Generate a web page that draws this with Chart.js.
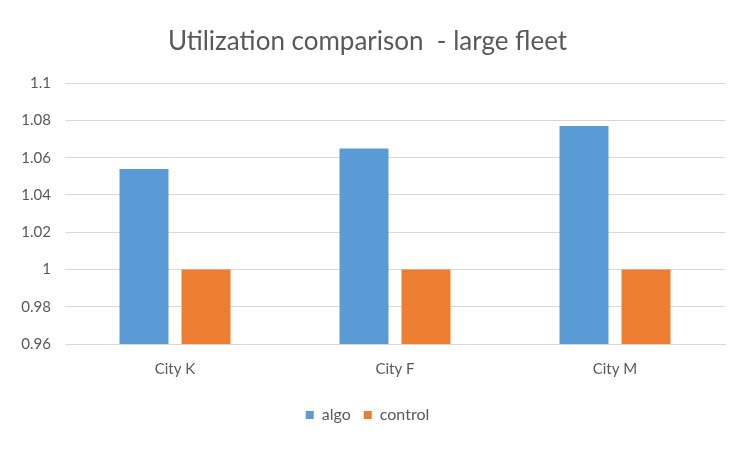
<!DOCTYPE html>
<html>
<head>
<meta charset="utf-8">
<script src="https://cdn.jsdelivr.net/npm/chart.js@4.4.1/dist/chart.umd.min.js"></script>
<style>
html,body{margin:0;padding:0;background:#fff;}
#wrap{width:750px;height:450px;}
</style>
</head>
<body>
<div id="wrap"><canvas id="c" width="750" height="450"></canvas></div>
<script>
const categories = ["City K", "City F", "City M"];
const algoValues = [1.054, 1.065, 1.077];
const controlValues = [1, 1, 1];
const titleText = "Utilization comparison  - large fleet";
const yMin = 0.96, yMax = 1.1, yStep = 0.02;

const FONT = "Lato, 'Open Sans', sans-serif";

new Chart(document.getElementById('c'), {
  type: 'bar',
  data: {
    labels: categories,
    datasets: [
      { label: 'algo', data: algoValues, backgroundColor: '#5B9BD5', categoryPercentage: 0.5636, barPercentage: 0.79 },
      { label: 'control', data: controlValues, backgroundColor: '#ED7D31', categoryPercentage: 0.5636, barPercentage: 0.79 }
    ]
  },
  options: {
    responsive: false,
    animation: false,
    layout: { padding: { left: 10, right: 25, top: 13, bottom: 17 } },
    plugins: {
      title: {
        display: true, text: titleText, color: '#595959',
        font: { family: FONT, size: 26, weight: 'normal' },
        padding: { top: 13, bottom: 26 }
      },
      legend: {
        position: 'bottom',
        labels: {
          color: '#595959', font: { family: FONT, size: 16 },
          boxWidth: 8, boxHeight: 8, padding: 13
        }
      },
      tooltip: { enabled: false }
    },
    scales: {
      x: {
        grid: { display: false, drawTicks: false },
        border: { display: true, color: '#D9D9D9', width: 1 },
        ticks: { color: '#595959', font: { family: FONT, size: 15 }, padding: 16 }
      },
      y: {
        min: yMin, max: yMax,
        grid: { color: '#D9D9D9', lineWidth: 1, drawTicks: false },
        border: { display: false },
        afterFit: (s) => { s.width = 55; },
        ticks: {
          stepSize: yStep, color: '#595959', font: { family: FONT, size: 15 }, padding: 14,
          callback: (v) => String(parseFloat(v.toFixed(2)))
        }
      }
    }
  }
});
</script>
</body>
</html>
